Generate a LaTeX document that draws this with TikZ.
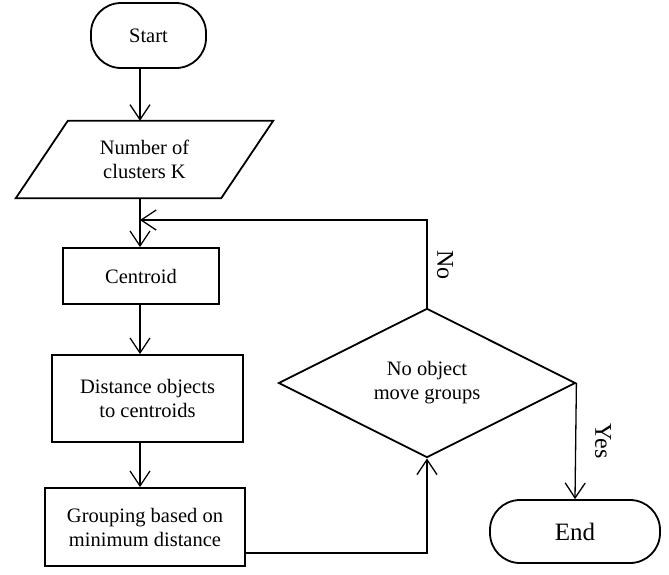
\documentclass[tikz,border=0pt]{standalone}
\usepackage{fontspec}
\setmainfont{Liberation Serif}
\usetikzlibrary{arrows.meta,shapes.geometric}

\tikzset{
    box/.style={rectangle, draw, line width=1.8pt, align=center, inner sep=2pt,
        font=\fontsize{20.5}{24}\selectfont},
    term/.style={box, rounded corners=30pt},
    arr/.style={draw, line width=1.3pt, -{Straight Barb[length=15pt,width=20pt,line width=1.3pt]}},
    lbl/.style={font=\fontsize{24}{28}\selectfont, inner sep=0pt}
}

\begin{document}
\begin{tikzpicture}[x=1pt, y=-1pt]
    \useasboundingbox (0,0) rectangle (669,574);

    % main column
    \coordinate (axis) at (140,0);
    \node[term, minimum width=115pt, minimum height=65pt] (start) at (148.5,35.5) {Start};
    \node[align=center, minimum width=205pt, minimum height=77pt,
        font=\fontsize{20.5}{24}\selectfont] (param) at (144.5,159.5) {Number of\\clusters K};
    \draw[line width=1.8pt]
        ([xshift=26pt]param.north west) -- ([xshift=26pt]param.north east)
        -- ([xshift=-26pt]param.south east) -- ([xshift=-26pt]param.south west) -- cycle;
    \node[box, minimum width=156pt, minimum height=56pt] (centroid) at (141,276) {Centroid};
    \node[box, minimum width=191pt, minimum height=87pt] (dist) at (147.5,398.5) {Distance objects\\to centroids};
    \node[box, minimum width=200pt, minimum height=78pt] (group) at (145,527) {Grouping based on\\minimum distance};

    % decision and end
    \node[diamond, draw, line width=1.8pt, align=center, inner sep=0pt,
        minimum width=297pt, minimum height=140pt,
        font=\fontsize{20.5}{24}\selectfont] (check) at (427,383) {No object\\move groups};
    \node[term, minimum width=170pt, minimum height=63pt,
        font=\fontsize{25}{28}\selectfont] (end) at (575,531.5) {End};

    % connectors
    \coordinate (join) at (140,220);
    \draw[arr] (start.south -| axis) -- (param.north -| axis);
    \draw[arr] (param.south -| axis) -- (centroid.north -| axis);
    \draw[arr] (centroid.south -| axis) -- (dist.north -| axis);
    \draw[arr] (dist.south -| axis) -- (group.north -| axis);
    \draw[arr] ([yshift=-26pt]group.east) -| (check.south);
    \draw[arr] (check.north) |- (join);
    \draw[arr] (check.east) -- (end.north);

    % labels
    \node[lbl, rotate=-90] (no) at (445,265) {No};
    \node[lbl, rotate=-90] (yes) at (603,441) {Yes};
\end{tikzpicture}
\end{document}
